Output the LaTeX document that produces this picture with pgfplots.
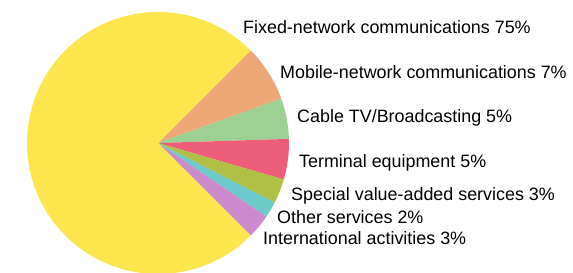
\documentclass[border=0pt]{standalone}
\usepackage{pgfplots}
\pgfplotsset{compat=1.18}
\usepackage{fontspec}
\setmainfont{Liberation Sans}
\definecolor{cFixed}{HTML}{FDE54E}
\definecolor{cMobile}{HTML}{EEA878}
\definecolor{cCable}{HTML}{9CCF92}
\definecolor{cTerm}{HTML}{EE5E78}
\definecolor{cSpec}{HTML}{AFC044}
\definecolor{cOther}{HTML}{6CCACA}
\definecolor{cIntl}{HTML}{CC8ACC}
% start angle (deg), share (%), colour
\newcommand\slice[3]{%
  \pgfmathsetmacro\endang{#1-#2*3.6}%
  \edef\doslice{\noexpand\fill[#3] (axis cs:158,130) -- ([shift={(#1:131bp)}]axis cs:158,130) arc[start angle=#1, end angle=\endang, radius=131bp] -- cycle;}%
  \doslice
}
\tikzset{lbl/.style={font=\fontsize{17.9bp}{19bp}\selectfont, anchor=west, inner sep=0pt}}
\begin{document}
\begin{tikzpicture}
\begin{axis}[
  scale only axis, width=573bp, height=273bp,
  xmin=0, xmax=573, ymin=0, ymax=273,
  hide axis, clip=true,
]
\addplot[draw=none] coordinates {(0,0) (573,273)};
% shares in %, clockwise from 45 degrees
\slice{45}{7}{cMobile}
\slice{19.8}{5}{cCable}
\slice{1.8}{5}{cTerm}
\slice{-16.2}{3}{cSpec}
\slice{-27}{2}{cOther}
\slice{-34.2}{3}{cIntl}
\slice{-45}{75}{cFixed}
\node[lbl] at (axis cs:243,246) {Fixed-network communications 75\%};
\node[lbl] at (axis cs:280,201) {Mobile-network communications 7\%};
\node[lbl] at (axis cs:297,155) {Cable TV/Broadcasting 5\%};
\node[lbl] at (axis cs:299,110) {Terminal equipment 5\%};
\node[lbl] at (axis cs:291,77) {Special value-added services 3\%};
\node[lbl] at (axis cs:277,56) {Other services 2\%};
\node[lbl] at (axis cs:263,35) {International activities 3\%};
\end{axis}
\end{tikzpicture}
\end{document}
